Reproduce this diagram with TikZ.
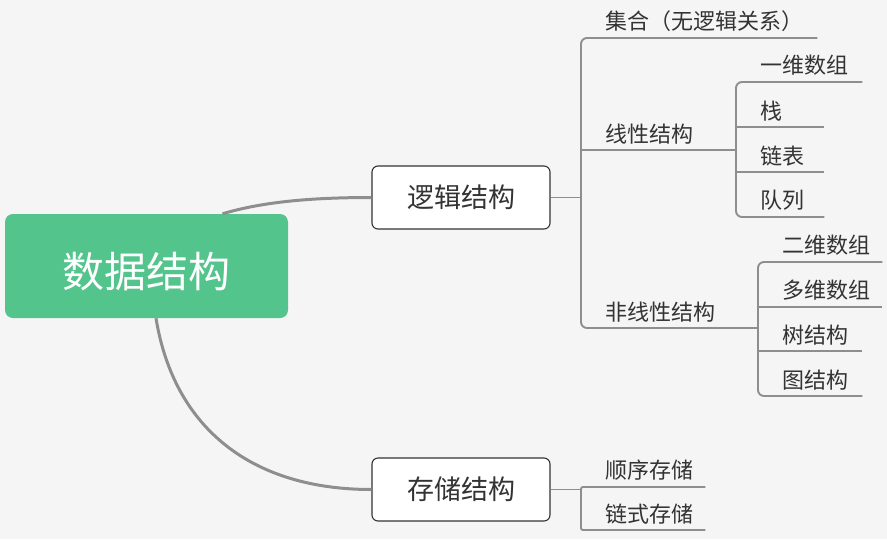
\documentclass[tikz,border=0pt]{standalone}
\usepackage{fontspec}
\newfontfamily\cjk{Noto Sans CJK SC}
\definecolor{bggray}{HTML}{F5F5F5}
\definecolor{mintgreen}{HTML}{52C48C}
\definecolor{linegray}{HTML}{8E8E8E}
\definecolor{inkgray}{HTML}{333333}
\tikzset{
        rootbox/.style={fill=mintgreen, rounded corners=8pt, minimum width=283pt, minimum height=104pt,
                text=white, text height=47pt, font={\cjk\fontsize{42pt}{50pt}\selectfont}},
        midbox/.style={draw=inkgray, fill=white, line width=1.1pt, rounded corners=6pt,
                minimum width=178pt, minimum height=63pt, text=inkgray, font={\cjk\fontsize{27pt}{32pt}\selectfont}},
        leaf/.style={anchor=south west, inner xsep=0pt, inner ysep=6pt, text width=#1, align=left,
                text=inkgray, font={\cjk\fontsize{22pt}{26pt}\selectfont}, execute at begin node={\hspace*{24pt}}},
        trunk/.style={draw=linegray, line width=3pt},
        branch/.style={draw=linegray, line width=1.9pt, rounded corners=6pt}
}
\begin{document}
\begin{tikzpicture}[x=1pt, y=-1pt]
        \fill[bggray] (0,0) rectangle (887,539);
        \useasboundingbox (0,0) rectangle (887,539);

        \node[rootbox] (root) at (146.5,266) {数据结构};
        \node[midbox] (logic) at (461,197.5) {逻辑结构};
        \node[midbox] (store) at (461,489.5) {存储结构};

        \draw[trunk] ([xshift=76pt]root.north) .. controls +(40,-12) and +(-60,0) .. (logic.west);
        \draw[trunk] ([xshift=9.5pt]root.south) .. controls +(18,110) and +(-120,0) .. (store.west);

        % logical structure
        \node[leaf=236pt] (set) at (581,38) {集合（无逻辑关系）};
        \node[leaf=155pt] (lin) at (581,150) {线性结构};
        \node[leaf=177pt] (nonlin) at (581,328) {非线性结构};
        \draw[branch] (logic.east) -- (logic.east -| set.south west);
        \draw[branch] (set.south east) -- (set.south west) -- (nonlin.south west) -- (nonlin.south east);
        \draw[branch] (lin.south west) -- (lin.south east);

        \node[leaf=126pt] (arr1) at (736,82) {一维数组};
        \node[leaf=88pt] (stack) at (736,127) {栈};
        \node[leaf=88pt] (llist) at (736,172) {链表};
        \node[leaf=88pt] (queue) at (736,217) {队列};
        \draw[branch] (arr1.south east) -- (arr1.south west) -- (queue.south west) -- (queue.south east);
        \foreach \n in {stack,llist}
                \draw[branch] (\n.south west) -- (\n.south east);

        \node[leaf=124pt] (arr2) at (758,262) {二维数组};
        \node[leaf=124pt] (arrn) at (758,307) {多维数组};
        \node[leaf=104pt] (tree) at (758,351) {树结构};
        \node[leaf=104pt] (graph) at (758,396) {图结构};
        \draw[branch] (arr2.south east) -- (arr2.south west) -- (graph.south west) -- (graph.south east);
        \foreach \n in {arrn,tree}
                \draw[branch] (\n.south west) -- (\n.south east);

        % storage structure
        \node[leaf=124pt] (seq) at (581,487) {顺序存储};
        \node[leaf=124pt] (linked) at (581,530) {链式存储};
        \draw[branch] (store.east) -- (store.east -| seq.south west);
        \draw[branch, rounded corners=2pt] (seq.south east) -- (seq.south west) -- (linked.south west) -- (linked.south east);
\end{tikzpicture}
\end{document}
